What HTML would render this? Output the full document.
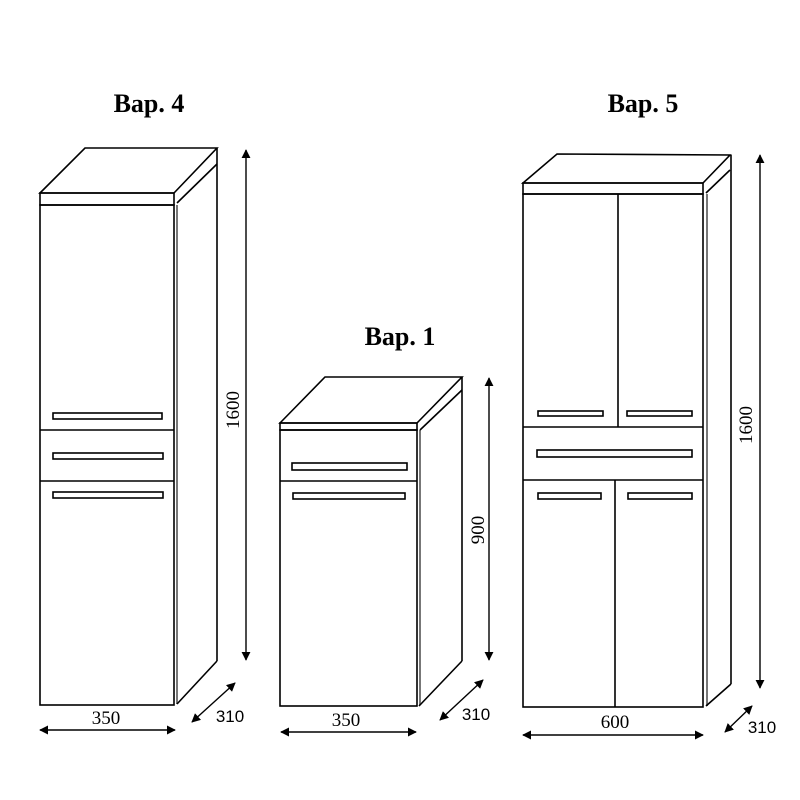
<!DOCTYPE html>
<html><head><meta charset="utf-8"><style>
html,body{margin:0;padding:0;background:#fff;}
svg{display:block}
</style></head><body>
<svg width="800" height="800" viewBox="0 0 800 800" xmlns="http://www.w3.org/2000/svg">
<defs>
<marker id="a" viewBox="0 0 10 10" refX="9" refY="5" markerWidth="9" markerHeight="9" orient="auto-start-reverse" markerUnits="userSpaceOnUse"><path d="M0,0 L10,5 L0,10 z" fill="#000"/></marker>
</defs>
<rect width="800" height="800" fill="#fff"/>
<g font-family="Liberation Serif, serif" font-weight="bold" font-size="26" fill="#000" text-anchor="middle">
<text x="149" y="112">Вар. 4</text>
<text x="400" y="345">Вар. 1</text>
<text x="643" y="112">Вар. 5</text>
</g>
<g fill="none" stroke="#000" stroke-width="1.6">
<polygon points="40,193 85,148 217,148 174,193"/>
<rect x="40" y="193" width="134" height="12"/>
<rect x="40" y="205" width="134" height="500"/>
<line x1="177" y1="205" x2="177" y2="704" stroke="#777" stroke-width="2"/>
<line x1="177" y1="203" x2="217" y2="164"/>
<line x1="217" y1="148" x2="217" y2="661"/>
<line x1="177" y1="704" x2="217" y2="661"/>
<line x1="40" y1="430" x2="174" y2="430"/>
<line x1="40" y1="481" x2="174" y2="481"/>
<rect x="53" y="413" width="109" height="6"/>
<rect x="53" y="453" width="110" height="6"/>
<rect x="53" y="492" width="110" height="6"/>
<polygon points="280,423 325,377 462,377 417,423"/>
<rect x="280" y="423" width="137" height="7"/>
<rect x="280" y="430" width="137" height="276"/>
<line x1="420" y1="430" x2="420" y2="705" stroke="#777" stroke-width="2"/>
<line x1="420" y1="430" x2="462" y2="390"/>
<line x1="462" y1="377" x2="462" y2="661"/>
<line x1="419" y1="706" x2="462" y2="661"/>
<line x1="280" y1="481" x2="417" y2="481"/>
<rect x="292" y="463" width="115" height="7"/>
<rect x="293" y="493" width="112" height="6"/>
<polygon points="523,183 557,154 730,155 703,183"/>
<rect x="523" y="183" width="180" height="11"/>
<rect x="523" y="194" width="180" height="513"/>
<line x1="707" y1="194" x2="707" y2="706" stroke="#777" stroke-width="2"/>
<line x1="706" y1="193" x2="730" y2="170"/>
<line x1="731" y1="155" x2="731" y2="684"/>
<line x1="706" y1="706" x2="731" y2="684"/>
<line x1="618" y1="194" x2="618" y2="427"/>
<line x1="523" y1="427" x2="703" y2="427"/>
<line x1="523" y1="480" x2="703" y2="480"/>
<line x1="615" y1="480" x2="615" y2="707"/>
<rect x="538" y="411" width="65" height="5"/>
<rect x="627" y="411" width="65" height="5"/>
<rect x="537" y="450" width="155" height="7"/>
<rect x="538" y="493" width="63" height="6"/>
<rect x="628" y="493" width="64" height="6"/>
</g>
<g stroke="#000" stroke-width="1.4" marker-start="url(#a)" marker-end="url(#a)">
<line x1="246" y1="150" x2="246" y2="660"/>
<line x1="40" y1="730" x2="175" y2="730"/>
<line x1="192" y1="722" x2="235" y2="683"/>
<line x1="489" y1="378" x2="489" y2="660"/>
<line x1="281" y1="732" x2="416" y2="732"/>
<line x1="440" y1="720" x2="483" y2="680"/>
<line x1="760" y1="155" x2="760" y2="688"/>
<line x1="523" y1="735" x2="703" y2="735"/>
<line x1="725" y1="732" x2="752" y2="706"/>
</g>
<g font-family="Liberation Serif, serif" font-size="19" fill="#000" text-anchor="middle">
<text x="106" y="724">350</text>
<text x="346" y="726">350</text>
<text x="615" y="728">600</text>
</g>
<g font-family="Liberation Sans, sans-serif" font-size="17" fill="#000" text-anchor="middle">
<text x="230" y="722">310</text>
<text x="476" y="720">310</text>
<text x="762" y="733">310</text>
</g>
<g font-family="Liberation Serif, serif" font-size="19" fill="#000" text-anchor="middle">
<text transform="translate(239,410) rotate(-90)">1600</text>
<text transform="translate(484,530) rotate(-90)">900</text>
<text transform="translate(752,425) rotate(-90)">1600</text>
</g>
</svg>
</body></html>
